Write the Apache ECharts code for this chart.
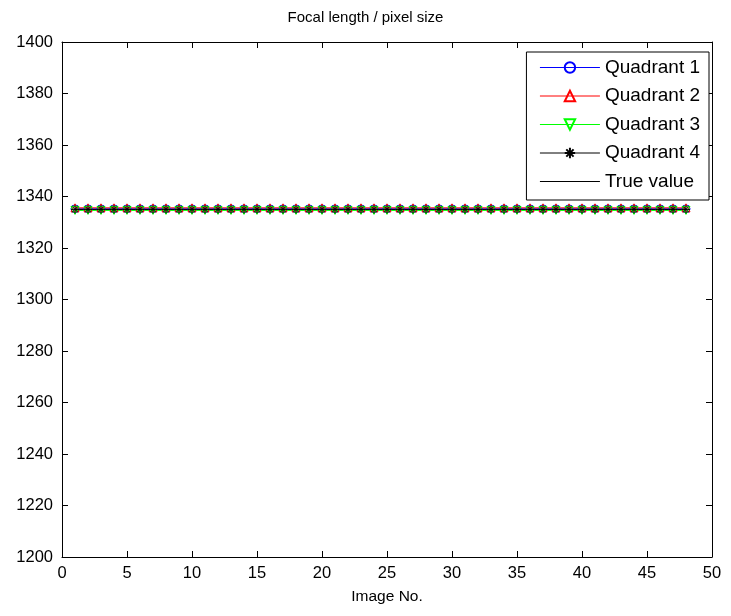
<!DOCTYPE html>
<html><head><meta charset="utf-8">
<script src="https://cdn.jsdelivr.net/npm/echarts@6/dist/echarts.min.js"></script>
<style>html,body{margin:0;padding:0;background:#fff}#c{width:731px;height:616px}</style>
</head><body><div id="c"></div>
<script>
const imageNo = [1,2,3,4,5,6,7,8,9,10,11,12,13,14,15,16,17,18,19,20,21,22,23,24,25,26,27,28,29,30,31,32,33,34,35,36,37,38,39,40,41,42,43,44,45,46,47,48];
const quadrant1 = [1335.2,1335.2,1335.2,1335.2,1335.2,1335.2,1335.2,1335.2,1335.2,1335.2,1335.2,1335.2,1335.2,1335.2,1335.2,1335.2,1335.2,1335.2,1335.2,1335.2,1335.2,1335.2,1335.2,1335.2,1335.2,1335.2,1335.2,1335.2,1335.2,1335.2,1335.2,1335.2,1335.2,1335.2,1335.2,1335.2,1335.2,1335.2,1335.2,1335.2,1335.2,1335.2,1335.2,1335.2,1335.2,1335.2,1335.2,1335.2];
const quadrant2 = [1335.6,1335.6,1335.6,1335.6,1335.6,1335.6,1335.6,1335.6,1335.6,1335.6,1335.6,1335.6,1335.6,1335.6,1335.6,1335.6,1335.6,1335.6,1335.6,1335.6,1335.6,1335.6,1335.6,1335.6,1335.6,1335.6,1335.6,1335.6,1335.6,1335.6,1335.6,1335.6,1335.6,1335.6,1335.6,1335.6,1335.6,1335.6,1335.6,1335.6,1335.6,1335.6,1335.6,1335.6,1335.6,1335.6,1335.6,1335.6];
const quadrant3 = [1334.6,1334.6,1334.6,1334.6,1334.6,1334.6,1334.6,1334.6,1334.6,1334.6,1334.6,1334.6,1334.6,1334.6,1334.6,1334.6,1334.6,1334.6,1334.6,1334.6,1334.6,1334.6,1334.6,1334.6,1334.6,1334.6,1334.6,1334.6,1334.6,1334.6,1334.6,1334.6,1334.6,1334.6,1334.6,1334.6,1334.6,1334.6,1334.6,1334.6,1334.6,1334.6,1334.6,1334.6,1334.6,1334.6,1334.6,1334.6];
const quadrant4 = [1335.0,1335.0,1335.0,1335.0,1335.0,1335.0,1335.0,1335.0,1335.0,1335.0,1335.0,1335.0,1335.0,1335.0,1335.0,1335.0,1335.0,1335.0,1335.0,1335.0,1335.0,1335.0,1335.0,1335.0,1335.0,1335.0,1335.0,1335.0,1335.0,1335.0,1335.0,1335.0,1335.0,1335.0,1335.0,1335.0,1335.0,1335.0,1335.0,1335.0,1335.0,1335.0,1335.0,1335.0,1335.0,1335.0,1335.0,1335.0];
const trueValue = [1334.9,1334.9,1334.9,1334.9,1334.9,1334.9,1334.9,1334.9,1334.9,1334.9,1334.9,1334.9,1334.9,1334.9,1334.9,1334.9,1334.9,1334.9,1334.9,1334.9,1334.9,1334.9,1334.9,1334.9,1334.9,1334.9,1334.9,1334.9,1334.9,1334.9,1334.9,1334.9,1334.9,1334.9,1334.9,1334.9,1334.9,1334.9,1334.9,1334.9,1334.9,1334.9,1334.9,1334.9,1334.9,1334.9,1334.9,1334.9];
const seriesNames = ['Quadrant 1','Quadrant 2','Quadrant 3','Quadrant 4','True value'];

const pair = arr => imageNo.map((x,i)=>[x,arr[i]]);
const font = 'Liberation Sans, Arial, sans-serif';
const asterisk = 'path://M0,-10L0,10M-10,0L10,0M-7,-7L7,7M-7,7L7,-7';

const chart = echarts.init(document.getElementById('c'), null, {renderer:'canvas'});
const axisCommon = {
  axisLine:{show:true,onZero:false,lineStyle:{color:'#000',width:1}},
  axisTick:{show:true,inside:true,length:6,lineStyle:{color:'#000'}},
  splitLine:{show:false}
};
function mk(name, data, color, symbol, extra) {
  return Object.assign({
    name, type:'line', data: pair(data), symbol, symbolSize:8,
    lineStyle:{color, width:1},
    itemStyle:{color:'transparent', borderColor:color, borderWidth:1},
    color, animation:false, z:2
  }, extra||{});
}
chart.setOption({
  animation:false,
  backgroundColor:'#fff',
  title:{text:'Focal length / pixel size', left:'center', top:5,
    textStyle:{fontFamily:font, fontSize:15, fontWeight:'normal', color:'#000'}},
  grid:{left:62, right:19, top:42, bottom:59, containLabel:false},
  xAxis:[
    Object.assign({type:'value', min:0, max:50, interval:5, position:'bottom',
      name:'Image No.', nameLocation:'middle', nameGap:32,
      nameTextStyle:{fontFamily:font, fontSize:15.5, color:'#000'},
      axisLabel:{fontFamily:font, fontSize:16.5, color:'#000', margin:8}}, axisCommon),
    Object.assign({type:'value', min:0, max:50, interval:5, position:'top',
      axisLabel:{show:false}}, axisCommon)
  ],
  yAxis:[
    Object.assign({type:'value', min:1200, max:1400, interval:20, position:'left',
      axisLabel:{fontFamily:font, fontSize:16.5, color:'#000', margin:9, formatter: v => String(v)}}, axisCommon),
    Object.assign({type:'value', min:1200, max:1400, interval:20, position:'right',
      axisLabel:{show:false}}, axisCommon)
  ],
  legend:{
    right:22, top:52, orient:'vertical', itemWidth:60, itemHeight:13, itemGap:9.5,
    backgroundColor:'#fff', borderColor:'#000', borderWidth:1, borderRadius:0,
    padding:[6,9,9,13],
    lineStyle:{width:1},
    textStyle:{fontFamily:font, fontSize:19, color:'#000'},
    data: seriesNames
  },
  series:[
    mk(seriesNames[0], quadrant1, '#0000ff', 'circle'),
    mk(seriesNames[1], quadrant2, '#ff0000', 'triangle'),
    mk(seriesNames[2], quadrant3, '#00ff00', 'triangle', {symbolRotate:180}),
    mk(seriesNames[3], quadrant4, '#000000', asterisk),
    {name:seriesNames[4], type:'line', data:pair(trueValue), symbol:'none', showSymbol:false,
      legendIcon:'path://M0,0L0,0',
      lineStyle:{color:'#000', width:1}, itemStyle:{color:'transparent'}, color:'#000', z:1}
  ]
});
</script></body></html>
